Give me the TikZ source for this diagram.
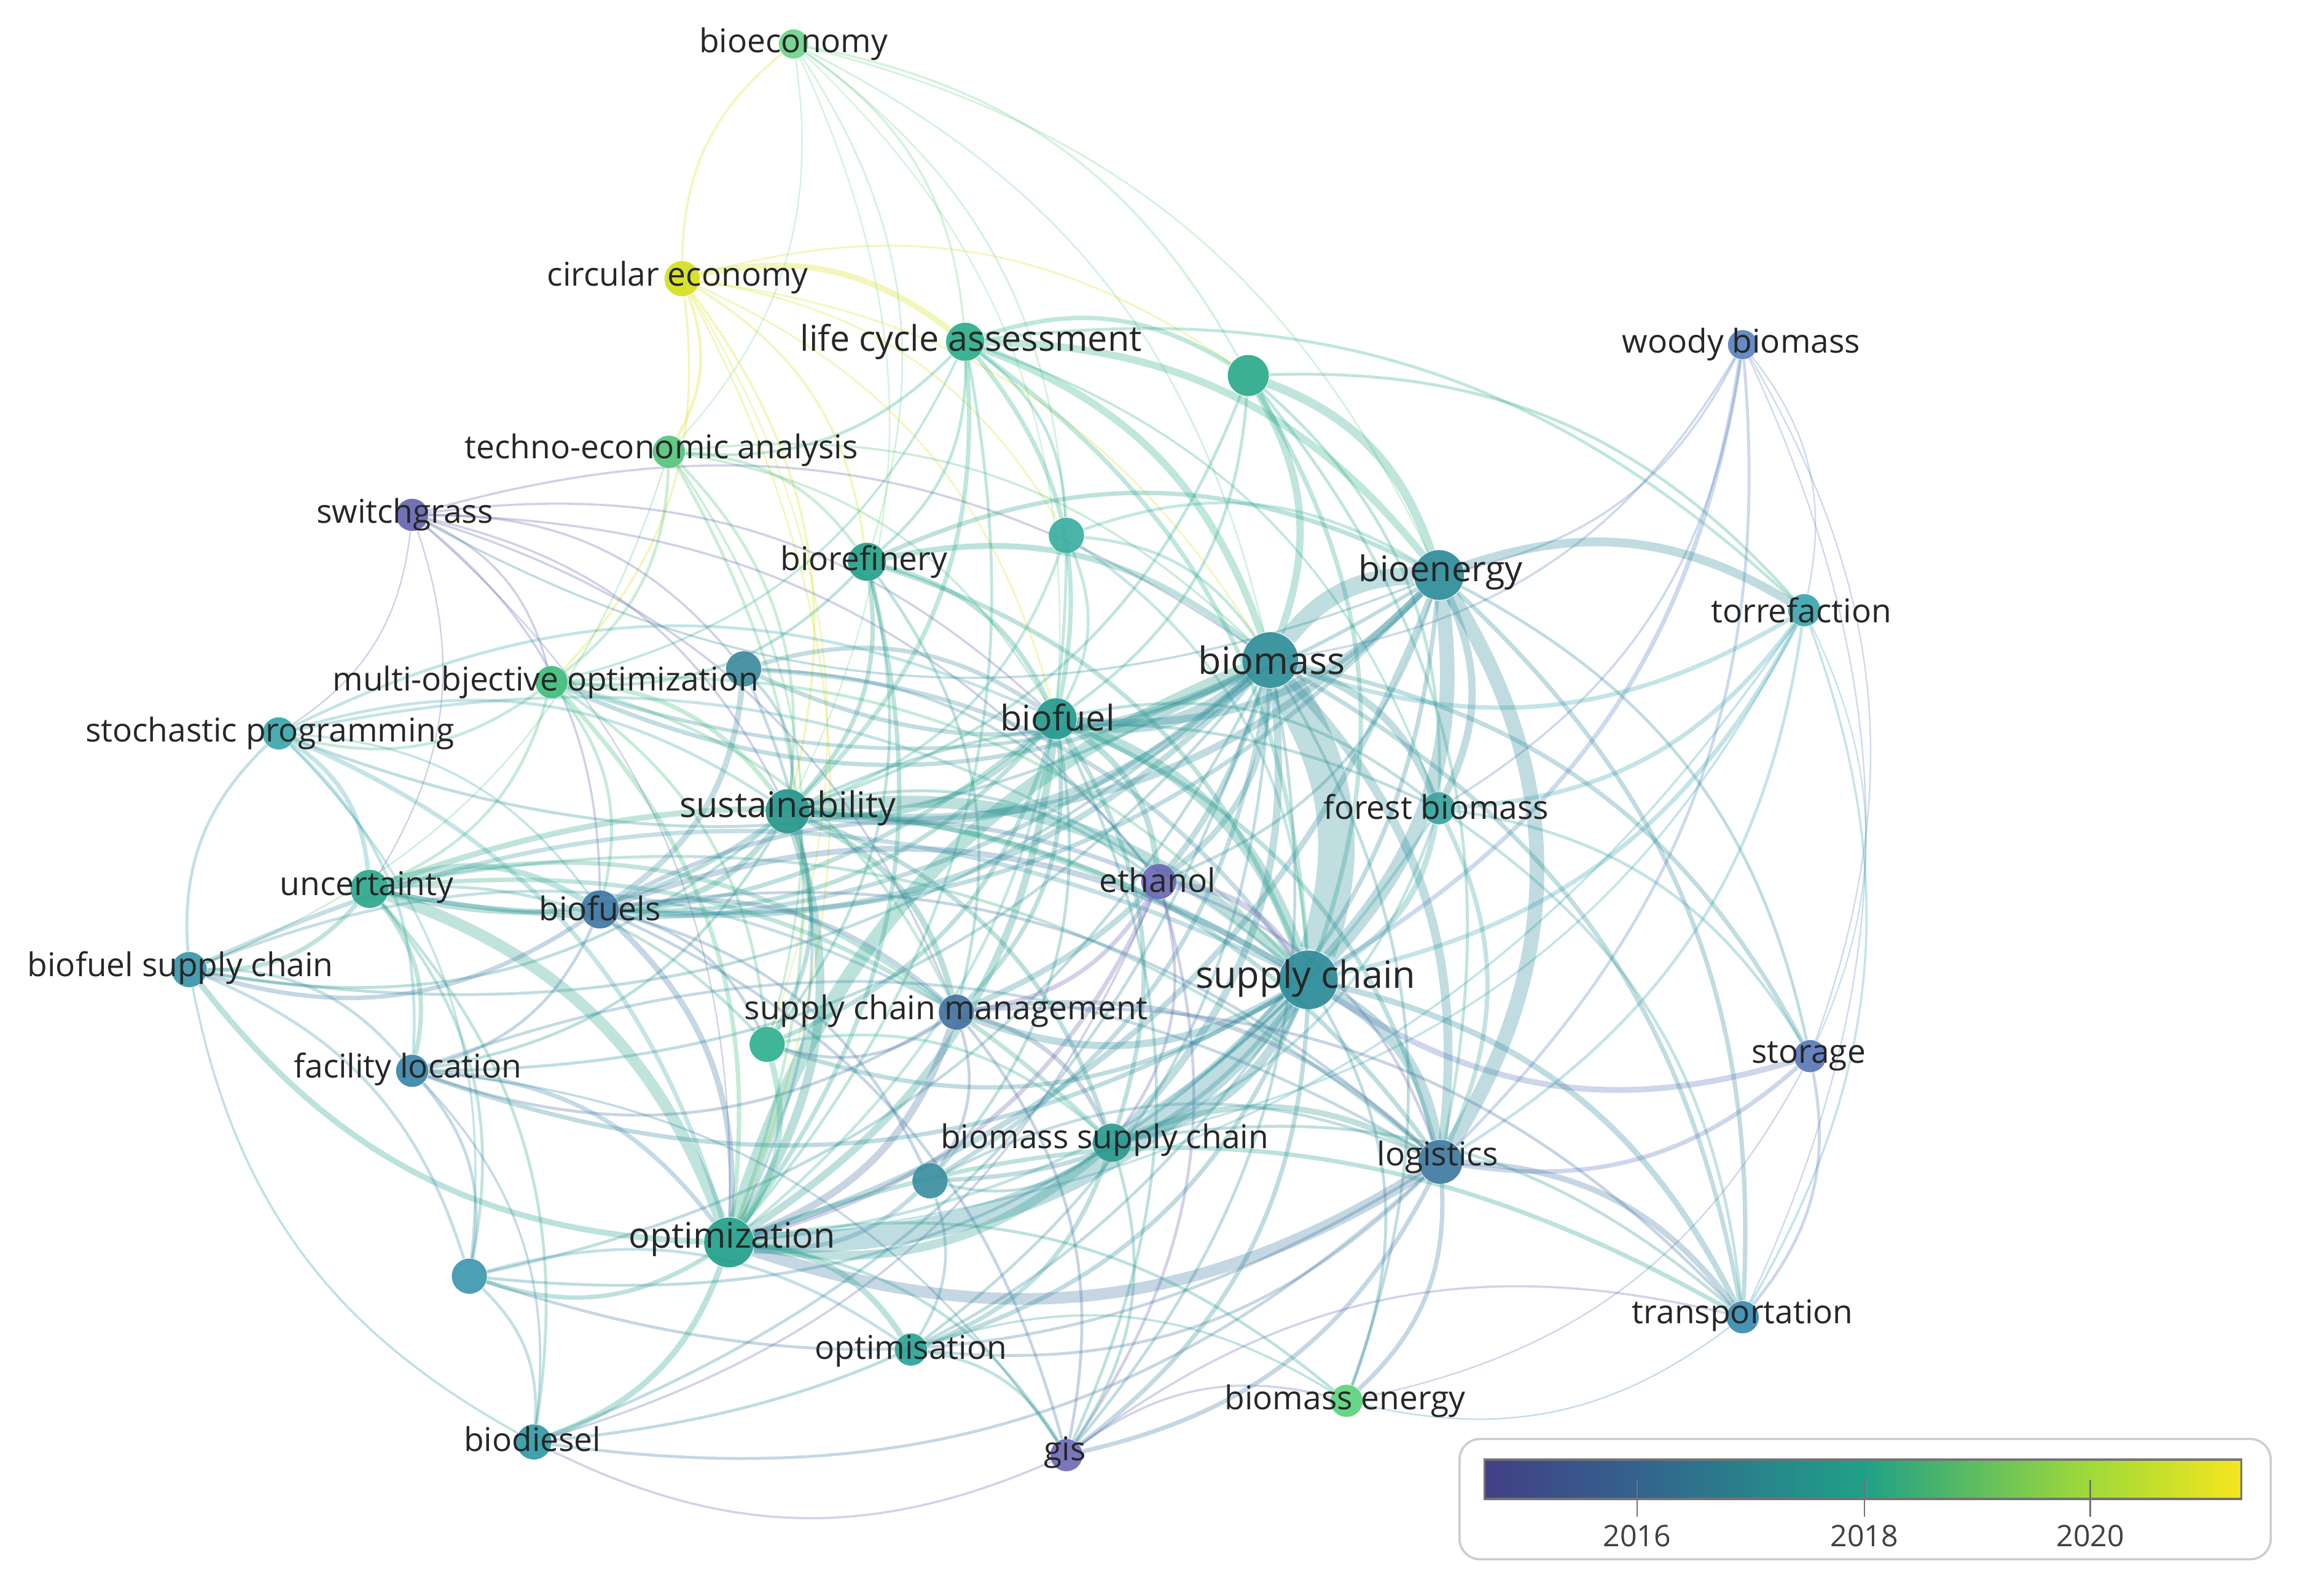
\documentclass[tikz,border=0pt]{standalone}
\usepackage{fontspec}
\setmainfont{Open Sans}
\usetikzlibrary{backgrounds}
% keyword colours (by average publication year)
\definecolor{c-bioecon}{HTML}{6FD38A}
\definecolor{c-circ}{HTML}{D4E01C}
\definecolor{c-lca}{HTML}{2BAE8A}
\definecolor{c-hubA}{HTML}{2AA98C}
\definecolor{c-woody}{HTML}{5A82C0}
\definecolor{c-tea}{HTML}{52C47C}
\definecolor{c-switch}{HTML}{6566B0}
\definecolor{c-bioref}{HTML}{25A08A}
\definecolor{c-hubB}{HTML}{3AAEA0}
\definecolor{c-bioenergy}{HTML}{2D8C9A}
\definecolor{c-torref}{HTML}{3AA5B0}
\definecolor{c-biomass}{HTML}{2E8D98}
\definecolor{c-moo}{HTML}{3DBD7A}
\definecolor{c-hubC}{HTML}{3D8A9E}
\definecolor{c-stoch}{HTML}{3AA6AA}
\definecolor{c-biofuel}{HTML}{24998E}
\definecolor{c-sust}{HTML}{26968C}
\definecolor{c-forest}{HTML}{37A39E}
\definecolor{c-uncert}{HTML}{2EA68C}
\definecolor{c-biofuels}{HTML}{3F77A4}
\definecolor{c-ethanol}{HTML}{6A68B4}
\definecolor{c-bfsc}{HTML}{3A94AA}
\definecolor{c-sc}{HTML}{2A8A98}
\definecolor{c-scm}{HTML}{44719F}
\definecolor{c-hubD}{HTML}{2FB08E}
\definecolor{c-facloc}{HTML}{3A86A8}
\definecolor{c-storage}{HTML}{5A78B8}
\definecolor{c-bmsc}{HTML}{2B9A90}
\definecolor{c-hubE}{HTML}{3A8EA0}
\definecolor{c-logistics}{HTML}{3F7AA0}
\definecolor{c-optz}{HTML}{22A08A}
\definecolor{c-hubF}{HTML}{3D98AE}
\definecolor{c-transp}{HTML}{3A8AAF}
\definecolor{c-optis}{HTML}{2AA394}
\definecolor{c-bmenergy}{HTML}{5AD27C}
\definecolor{c-biodiesel}{HTML}{2F9AA6}
\definecolor{c-gis}{HTML}{6C6BB8}
% scale colours
\definecolor{y-2015}{HTML}{423F86}
\definecolor{y-2016}{HTML}{33638D}
\definecolor{y-2018}{HTML}{1FA187}
\definecolor{y-2020}{HTML}{A0DA39}
\definecolor{y-2021}{HTML}{F5E61E}
\tikzset{
  kw/.style={circle, inner sep=0pt, minimum size=#1*0.02cm, draw=none, fill opacity=0.92},
  lblS/.style={font=\fontsize{12.7}{15}\selectfont, text=black!85, inner sep=0pt},
  lblM/.style={lblS, font=\fontsize{13.7}{16}\selectfont},
  lblL/.style={lblS, font=\fontsize{14.6}{17}\selectfont},
  link/.style={bend left=25, draw opacity=0.3},
  legbox/.style={draw=black!20, line width=0.85pt, rounded corners=0.28cm},
}

\begin{document}
\begin{tikzpicture}[x=0.02cm, y=-0.02cm]
  \useasboundingbox (0,0) rectangle (1568,1088);
  % keywords
  \foreach \n/\x/\y/\d in {bioecon/541/30/20, circ/465/190/24, lca/658/233/26,
      hubA/851/256/28, woody/1188/235/20, tea/456/308/22, switch/281/351/22,
      bioref/591/383/26, hubB/727/365/24, bioenergy/981/392/34, torref/1230/416/22,
      biomass/866/450/38, moo/376/465/22, hubC/507/456/24, stoch/190/500/22,
      biofuel/720/490/28, sust/537/553/30, forest/981/551/22, uncert/252/606/26,
      biofuels/409/620/26, ethanol/790/601/24, bfsc/129/661/24, sc/892/668/40,
      scm/652/690/24, hubD/523/712/24, facloc/281/730/22, storage/1234/720/22,
      bmsc/758/779/26, hubE/634/805/24, logistics/982/792/30, optz/497/847/34,
      hubF/320/870/24, transp/1188/898/22, optis/621/920/22, bmenergy/918/955/22,
      biodiesel/364/983/24, gis/727/992/22}
    \node[kw=\d, fill=c-\n] (\n) at (\x,\y) {};
  \foreach \n/\t/\x/\y/\s in {bioecon/bioeconomy/541/30/S,
      circ/circular economy/462/189/S, lca/life cycle assessment/662/233/M,
      woody/woody biomass/1187/235/S, tea/techno-economic analysis/451/307/S,
      switch/switchgrass/276/351/S, bioref/biorefinery/589/383/S,
      bioenergy/bioenergy/982/390/M, torref/torrefaction/1228/416/S,
      biomass/biomass/867/450/L, moo/multi-objective optimization/372/465/S,
      stoch/stochastic programming/184/500/S, biofuel/biofuel/721/489/M,
      sust/sustainability/537/551/M, forest/forest biomass/979/550/S,
      uncert/uncertainty/250/605/S, biofuels/biofuels/409/619/S,
      ethanol/ethanol/789/600/S, bfsc/biofuel supply chain/123/660/S,
      sc/supply chain/890/667/L, scm/supply chain management/645/689/S,
      facloc/facility location/278/729/S, storage/storage/1233/720/S,
      bmsc/biomass supply chain/753/777/S, logistics/logistics/980/789/S,
      optz/optimization/499/845/M, transp/transportation/1188/897/S,
      optis/optimisation/621/921/S, bmenergy/biomass energy/917/955/S,
      biodiesel/biodiesel/363/981/S, gis/gis/726/990/S}
    \node[lbl\s] (\n-t) at (\x,\y) {\t};
  % co-occurrence links
  \begin{scope}[on background layer]
    \foreach \a/\b/\w in {circ/bioecon/1.5, bioecon/lca/1.5, bioecon/hubA/1.5,
        bioecon/bioref/1.2, bioecon/hubB/1.2, bioecon/biomass/1.2, bioecon/sust/1,
        bioecon/biofuel/1, bioecon/bioenergy/1.2, bioecon/tea/1,
        circ/lca/4, circ/tea/2, circ/bioref/1.5, circ/moo/1.5, circ/sust/1.5,
        circ/biofuel/1.2, circ/hubB/1.2, circ/biomass/1.2, circ/optz/1.2,
        circ/hubA/1.2, circ/hubD/1,
        lca/hubA/3, lca/bioenergy/5, lca/biomass/5, lca/biofuel/3, lca/sust/3,
        lca/bioref/2, lca/sc/3, lca/torref/2, lca/hubB/2, lca/optz/2, lca/tea/2,
        lca/moo/1.5, lca/forest/1.5,
        hubA/bioenergy/6, hubA/biomass/5, hubA/sc/3, hubA/biofuel/2, hubA/torref/2,
        hubA/sust/2, hubA/logistics/2, hubA/forest/2,
        woody/sc/3, woody/logistics/2, woody/bioenergy/1.5, woody/forest/1.5,
        woody/torref/1, woody/storage/1, woody/transp/1, woody/biomass/1.5,
        tea/bioref/2, tea/moo/2, tea/optz/2, tea/sust/2, tea/biofuel/1.5,
        tea/biomass/1.5, tea/hubD/1.5, tea/bfsc/1,
        switch/moo/1.5, switch/hubC/1.5, switch/biofuels/1.5, switch/sust/1.5,
        switch/biofuel/1.5, switch/ethanol/1.5, switch/scm/1.5, switch/uncert/1,
        switch/biomass/1.5, switch/stoch/1, switch/optz/1,
        bioref/biofuel/3, bioref/biomass/4, bioref/sust/3, bioref/optz/3,
        bioref/bioenergy/3, bioref/sc/3, bioref/hubD/2, bioref/moo/2, bioref/scm/2,
        hubB/biomass/2, hubB/biofuel/2, hubB/sust/2, hubB/bioenergy/2, hubB/optz/2,
        hubB/sc/2,
        biomass/bioenergy/12, bioenergy/sc/10,
        bioenergy/forest/5, bioenergy/torref/6, bioenergy/biofuel/5,
        bioenergy/sust/5, bioenergy/optz/4, bioenergy/transp/3, bioenergy/storage/2,
        bioenergy/bmsc/3, bioenergy/ethanol/2, bioenergy/biofuels/3,
        bioenergy/moo/2.5, bioenergy/switch/1.5,
        torref/sc/3, torref/forest/3, torref/biomass/3, torref/logistics/2,
        torref/transp/1.5, torref/storage/1, torref/optz/1.5, torref/bmsc/1.5,
        biomass/sc/25, biomass/biofuel/8, biomass/sust/6, optz/biomass/10,
        biomass/logistics/6, biomass/forest/5, biomass/ethanol/4, biomass/bmsc/5,
        biomass/scm/4, biomass/biofuels/4, biomass/uncert/3, biomass/moo/3,
        biomass/transp/3, biomass/storage/3, biomass/hubC/3, biomass/hubE/3,
        biomass/facloc/2, biomass/gis/2, biomass/bfsc/2, biomass/stoch/2,
        biomass/bmenergy/2, biomass/optis/2, biomass/biodiesel/2, biomass/hubF/2,
        moo/sust/3, moo/optz/3, moo/uncert/2, moo/biofuels/2, moo/sc/2, moo/stoch/2,
        moo/hubD/2, moo/scm/2,
        hubC/sust/2, hubC/biofuel/3, hubC/biofuels/4, hubC/sc/3, hubC/optz/2,
        hubC/ethanol/2,
        stoch/uncert/3, stoch/optz/3, bfsc/stoch/2, stoch/facloc/2, stoch/sc/2,
        stoch/biofuel/2, stoch/biofuels/1.5, stoch/hubF/1.5, stoch/sust/2,
        biofuel/sc/8, biofuel/sust/4, biofuel/optz/5, biofuel/ethanol/4,
        biofuel/scm/3, biofuel/biofuels/3, biofuel/bmsc/3, biofuel/logistics/3,
        biofuel/forest/2, biofuel/uncert/3, biofuel/hubD/3, biofuel/hubE/2,
        biofuel/gis/2,
        sust/sc/8, sust/optz/6, sust/scm/4, sust/biofuels/4, sust/uncert/3,
        sust/hubD/3, sust/logistics/3, sust/bmsc/3, sust/ethanol/2, sust/facloc/2,
        sust/bfsc/2, sust/forest/2,
        forest/sc/4, forest/logistics/3, forest/transp/2, forest/storage/2,
        forest/bmsc/2, forest/optz/2,
        uncert/optz/8, uncert/biofuels/4, uncert/sc/4, uncert/bfsc/3,
        uncert/facloc/3, uncert/scm/3, uncert/hubD/2, uncert/hubF/2,
        uncert/biodiesel/2, uncert/bmsc/3, uncert/logistics/2,
        biofuels/sc/4, biofuels/optz/4, biofuels/scm/3, biofuels/ethanol/3,
        biofuels/bfsc/3, biofuels/facloc/2, biofuels/hubE/2, biofuels/gis/2,
        biofuels/logistics/2, biofuels/hubD/2,
        ethanol/sc/4, ethanol/scm/3, ethanol/optz/3, ethanol/gis/2,
        ethanol/logistics/2, ethanol/bmsc/2, ethanol/biodiesel/1.5,
        optz/bfsc/4, bfsc/facloc/2, bfsc/hubF/2, bfsc/sc/3, biodiesel/bfsc/1.5,
        bfsc/scm/2,
        sc/optz/15, sc/logistics/8, sc/scm/5, sc/bmsc/6, sc/transp/4, storage/sc/4,
        sc/hubE/3, sc/gis/3, sc/facloc/3, sc/optis/3, sc/bmenergy/2, sc/hubD/3,
        sc/biodiesel/2, sc/hubF/2,
        scm/optz/5, scm/logistics/3, scm/bmsc/3, scm/hubD/2, scm/gis/2,
        scm/facloc/2, scm/hubE/2, scm/transp/2,
        hubD/optz/4, hubD/bmsc/2,
        facloc/optz/3, facloc/hubF/2, facloc/biodiesel/1.5, facloc/logistics/2,
        facloc/gis/1.5,
        storage/logistics/3, storage/transp/2, storage/bmenergy/1,
        bmsc/optz/6, bmsc/logistics/4, bmsc/optis/3, bmsc/gis/2, bmsc/hubE/2,
        bmsc/transp/2,
        hubE/optz/3, hubE/logistics/2, hubE/optis/2,
        logistics/optz/8, logistics/transp/4, logistics/gis/3, logistics/bmenergy/3,
        logistics/optis/2, logistics/hubF/2, logistics/biodiesel/2,
        optz/optis/4, optz/hubF/3, optz/biodiesel/4, optz/gis/2, optz/transp/3,
        optz/bmenergy/2,
        hubF/biodiesel/2, hubF/optis/2,
        gis/transp/1.5, transp/bmenergy/1,
        optis/gis/2, optis/bmenergy/1.5,
        gis/biodiesel/1.5, gis/bmenergy/1.5}
      \draw[link, line width=\w*0.567pt, draw=c-\a] (\a) to (\b);
    % the wide bioenergy--logistics arc
    \draw[link, bend left=32, line width=10*0.567pt, draw=c-bioenergy] (bioenergy) to (logistics);
  \end{scope}
  % year scale
  \draw[legbox] (995,981) rectangle (1548,1063);
  \shade[left color=y-2015, right color=y-2016] (1012,995) rectangle (1116,1022);
  \shade[left color=y-2016, right color=y-2018] (1116,995) rectangle (1271,1022);
  \shade[left color=y-2018, right color=y-2020] (1271,995) rectangle (1425,1022);
  \shade[left color=y-2020, right color=y-2021] (1425,995) rectangle (1528,1022);
  \draw[black!55, line width=0.9pt] (1012,995) rectangle (1528,1022);
  \foreach \x/\yr in {1116/2016, 1271/2018, 1425/2020} {
    \draw[black!55, line width=0.6pt] (\x,1009) -- (\x,1034);
    \node[font=\fontsize{11.5}{13}\selectfont, text=black!75] (yr\yr) at (\x,1047) {\yr};
  }
\end{tikzpicture}
\end{document}
